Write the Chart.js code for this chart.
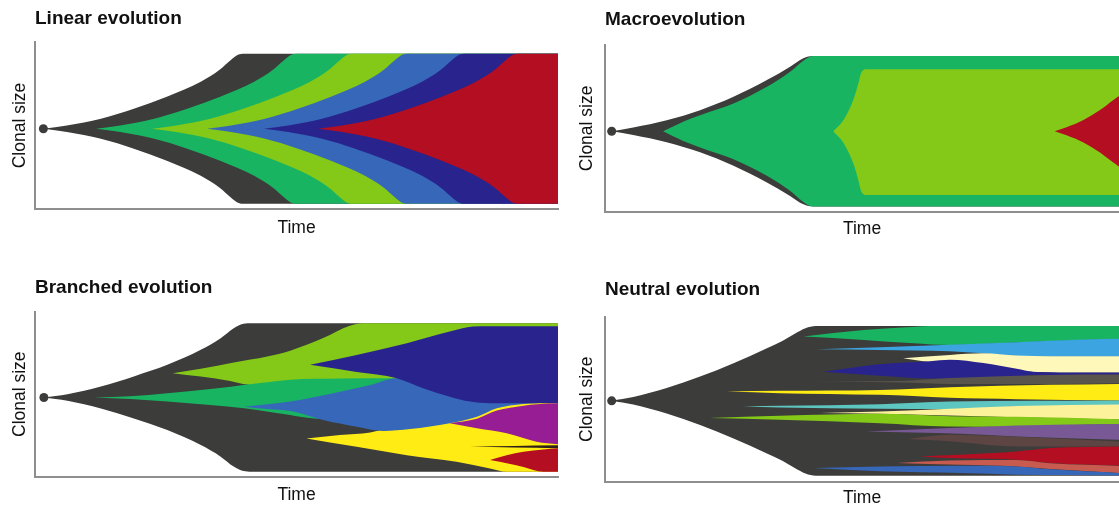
<!DOCTYPE html>
<html>
<head>
<meta charset="utf-8">
<title>Clonal evolution patterns</title>
<script src="https://cdn.jsdelivr.net/npm/chart.js@4.4.1/dist/chart.umd.min.js"></script>
<style>
  html, body { margin: 0; padding: 0; background: #fff; overflow: hidden; }
  body { width: 1119px; height: 506px; position: relative; }
  .panel { position: absolute; }
</style>
</head>
<body>
<div class="panel" style="left:0;top:0"><canvas id="linear" width="570" height="250"></canvas></div>
<div class="panel" style="left:570px;top:0"><canvas id="macro" width="549" height="250"></canvas></div>
<div class="panel" style="left:0;top:262px"><canvas id="branched" width="570" height="250"></canvas></div>
<div class="panel" style="left:570px;top:262px"><canvas id="neutral" width="549" height="250"></canvas></div>
<script>
// Time runs 0..100 along each panel, clonal size is centred on 0 (band = -50..50)
// Every clone is a list of [time, size] points for its upper and lower edge

// Linear evolution (symmetric, half widths)
const linOrigin = [1.6, 0];
const linDark  = [[1.6,0],[6.1,2.2],[12.6,6.7],[18.9,13.3],[25.2,21.3],[31.7,31.3],[35.3,39.3],[37.5,46],[38.8,49.3],[40,50],[100,50]];
const linGreen = [[11.7,0],[16.3,2.2],[22.8,6.7],[29.1,13.3],[35.4,21.3],[41.9,31.3],[45.5,39.3],[47.7,46],[49,49.3],[50.2,50],[100,50]];
const linLime  = [[22.4,0],[27,2.2],[33.5,6.7],[39.8,13.3],[46.1,21.3],[52.6,31.3],[56.2,39.3],[58.4,46],[59.7,49.3],[60.9,50],[100,50]];
const linBlue  = [[32.9,0],[37.5,2.2],[44,6.7],[50.3,13.3],[56.6,21.3],[63.1,31.3],[66.7,39.3],[68.9,46],[70.2,49.3],[71.4,50],[100,50]];
const linNavy  = [[43.8,0],[48.4,2.2],[54.9,6.7],[61.2,13.3],[67.5,21.3],[74,31.3],[77.6,39.3],[79.8,46],[81.1,49.3],[82.3,50],[100,50]];
const linRed   = [[54.1,0],[58.7,2.2],[65.2,6.7],[71.5,13.3],[77.8,21.3],[84.3,31.3],[87.9,39.3],[90.1,46],[91.4,49.3],[92.6,50],[100,50]];

// Macroevolution
const macOrigin = [1.3, 0];
const macDark  = [[1.3,0],[5.5,2.5],[12,7.3],[18.5,14],[25,22.9],[31.5,34],[36,42.9],[38.6,48.5],[40.5,50],[100,50]];
const macGreen = [[11.3,0],[15.2,6.4],[18.5,10.7],[25,18.5],[31.5,29.5],[36,39.5],[38.6,46.9],[40.5,50],[100,50]];
const macLimeTop = [[44.4,0],[46.4,7.5],[48.3,20.8],[49.3,31.9],[49.8,38.5],[50.3,40.7],[50.9,41.2],[100,41.2]];
const macLimeLow = [[44.4,0],[46.4,-7.7],[48.3,-21.3],[49.3,-32.7],[49.8,-39.5],[50.3,-41.8],[50.9,-42.3],[100,-42.3]];
const macRed   = [[87.5,0],[89.8,2.7],[93.1,7.5],[96.3,14.1],[98.9,20.8],[100,23.5]];

// Branched evolution
const brOrigin = [1.7, 0];
const brDark = [[1.7,0],[6.2,2.2],[12.6,7.4],[18.9,14.2],[25.3,22],[31.7,32.1],[35.5,39.9],[38,46.6],[39.5,49.3],[41,50],[100,50]];
const brGreenTop = [[11.3,0],[18.2,0.8],[25.3,2.8],[33.5,5.7],[40.6,8.9],[43,11.1],[48.8,13.5],[58.3,14.2],[69.2,14.2]];
const brGreenLow = [[11.3,0],[18.2,-1],[25.3,-2.8],[33.5,-5.1],[40,-7.3],[44.9,-9.8],[48.8,-11.8],[50.7,-13],[55.1,-14.5],[69.2,-15]];
const brLimeTop = [[26.3,16.4],[31.7,19.4],[38,23.6],[44.4,27.6],[48.8,31.5],[55.1,40],[60.2,48.3],[62.7,50],[100,50]];
const brLimeLow = [[26.3,16.4],[31.7,14.1],[37.3,11.1],[40.6,8.9],[43,9.8],[48.8,12],[58.3,12.8],[69.2,13],[100,13]];
const brYellowTop = [[51.9,-27.6],[58.3,-25.3],[64.1,-23.6],[66.6,-21.8],[71.7,-20.3],[79.3,-16.2],[84.5,-12.3],[88.3,-6.1],[93.4,-3],[96,-2.7],[100,-2.7]];
const brYellowLow = [[51.9,-27.6],[61.5,-33.2],[71.1,-38.9],[80.6,-43.4],[87,-47.8],[90.2,-50],[100,-50]];
const brBlueTop = [[40,-6.2],[44.4,-4.6],[48.8,-2.8],[53.5,0.3],[58.3,3.9],[64.1,8.4],[69.2,13],[74.2,7.5],[79.3,2],[83.2,-1.5],[87,-2.5],[96,-2.5]];
const brBlueLow = [[40,-6.2],[44.4,-7.8],[48.8,-9.1],[50.7,-10.7],[55.1,-15.2],[61.5,-19.7],[66.6,-22.6],[71.7,-21.3],[79.3,-17.4],[84.5,-13],[88.3,-7.3],[93.4,-4.4],[96,-3.9]];
const brNavyTop = [[52.6,22],[61.5,28.7],[71.1,36.6],[79.3,44.5],[83.8,47.8],[87,48],[100,48]];
const brNavyLow = [[52.6,22],[61.5,17.2],[69.2,13],[74.2,6.2],[79.3,0.5],[83.2,-2.8],[87,-3.9],[100,-3.9]];
const brPurpleTop = [[79.3,-17.4],[84.5,-14.3],[88.3,-8.8],[93.4,-5.5],[96,-4.5],[100,-3.9]];
const brPurpleLow = [[79.3,-17.4],[84.5,-20.8],[90.2,-24.2],[95.9,-29.9],[100,-31.6]];
const brStreakTop = [[83.2,-33.2],[91.6,-32.7],[100,-32.2]];
const brStreakLow = [[83.2,-33.2],[91.6,-33.7],[100,-34.2]];
const brRedTop = [[87,-42.2],[90.2,-38.9],[93.4,-36.6],[97.2,-35.1],[100,-34.3]];
const brRedLow = [[87,-42.2],[90.2,-44.3],[93.4,-46.8],[97.2,-50],[100,-50]];

// Neutral evolution
const neuOrigin = [1.3, 0];
const neuDark = [[1.3,0],[5.5,2.5],[12,8.5],[18.5,16.2],[25,25.1],[31.5,35.1],[34.5,40],[37,45],[39,48.5],[41,50],[100,50]];
const neuGreenTop = [[38.6,42.9],[50.3,47.3],[58.7,49.1],[63.2,50],[100,50]];
const neuGreenLow = [[38.6,42.9],[50.3,40.7],[60,38.5],[67.1,37.3],[80.1,38.9],[93.1,40.7],[100,41.1]];
const neuSkyTop = [[41.2,34.5],[53.5,35.8],[67.1,37.5],[80.1,39.2],[93.1,41],[100,41.4]];
const neuSkyLow = [[41.2,34.5],[53.5,34],[67.1,33.2],[73.6,31.8],[80.1,30],[86.6,29.5],[100,29.5]];
const neuCreamTop = [[58,28.5],[67.1,30.7],[73.6,31.8],[80.1,30.3],[86.6,29.8],[100,29.8]];
const neuCreamLow = [[58,28.5],[63.2,26],[67.1,25.5],[73.6,24],[80.1,21],[83.3,19.3],[90,18.8],[100,18.7]];
const neuNavyTop = [[42.5,19.5],[53.5,24.5],[63.2,26.5],[67.1,27.5],[73.6,25.3],[80.1,21.5],[83.3,19.5],[90,19],[100,18.9]];
const neuNavyLow = [[42.5,19.5],[53.5,16.8],[63.2,15],[67.1,15],[80.1,16.2],[83.3,17.2],[100,17.5]];
const neuTaupeTop = [[34,12.9],[57.4,13.3],[67.1,15.2],[86.6,17.3],[100,17.6]];
const neuTaupeLow = [[34,12.9],[57.4,12.3],[67.1,11.3],[86.6,11.3],[100,11.8]];
const neuYellowTop = [[23.7,6.2],[34,6.7],[53.5,7.3],[67.1,9.1],[86.6,10.7],[100,11.3]];
const neuYellowLow = [[23.7,6.2],[34,5.1],[53.5,4],[60,3.3],[67.1,2],[80.1,1.1],[100,0.2]];
const neuTealTop = [[26.9,-3.8],[34,-3.3],[53.5,-2.2],[67.1,-0.5],[100,0.2]];
const neuTealLow = [[26.9,-3.8],[34,-4.5],[53.5,-5.3],[67.1,-5.5],[80.1,-3.8],[100,-2.7]];
const neuPaleTop = [[41.8,-8.2],[53.5,-7.1],[67.1,-5.3],[80.1,-3.5],[100,-2.5]];
const neuPaleLow = [[41.8,-8.2],[53.5,-8.7],[69.1,-10],[80.1,-10.9],[100,-12.5]];
const neuLimeTop = [[20.4,-11.5],[34,-10],[53.5,-8.7],[67.1,-10.3],[80.1,-10.7],[100,-12.3]];
const neuLimeLow = [[20.4,-11.5],[34,-12.7],[53.5,-14.9],[66.5,-17.1],[80.1,-17.3],[86.6,-16.4],[100,-15.6]];
const neuPurpleTop = [[50.9,-20.5],[67.1,-18.2],[80.1,-16.5],[100,-15.5]];
const neuPurpleLow = [[50.9,-20.5],[69.1,-22],[80.1,-23.8],[100,-26]];
const neuBrownTop = [[58.7,-25.5],[67.1,-22.7],[80.1,-24],[100,-27.1]];
const neuBrownLow = [[58.7,-25.5],[67.1,-27],[80.1,-30.5],[100,-30.5]];
const neuRedTop = [[61.3,-37.1],[69.1,-36],[80.1,-33.8],[86.6,-31.5],[100,-30.5]];
const neuRedLow = [[61.3,-37.1],[67.1,-38.2],[80.1,-39.3],[86.6,-41.5],[100,-43.3]];
const neuSalmonTop = [[56.8,-41.5],[67.1,-39.8],[80.1,-39.5],[86.6,-41.7],[100,-43.5]];
const neuSalmonLow = [[56.8,-41.5],[69.1,-42.7],[80.1,-43.8],[86.6,-45.5],[100,-48.2]];
const neuBlueTop = [[40.5,-44.9],[53.5,-43.8],[69.1,-43.3],[80.1,-43.8],[86.6,-45.7],[100,-48.2]];
const neuBlueLow = [[40.5,-44.9],[53.5,-47.1],[69.1,-48.2],[80.1,-49.3],[100,-49.8]];

const C = {
  dark: '#3c3c3b', green: '#19b462', lime: '#84c818', blue: '#3667b9', navy: '#29238d',
  red: '#b30e21', yellow: '#ffec14', purple: '#961d93', streak: '#2e2018', sky: '#3ca5e1',
  cream: '#fff8bb', teal: '#5dc6c1', pale: '#fcf29b', lavender: '#785996', brown: '#5d4543',
  taupe: '#5a554c', salmon: '#c75b50'
};
const FONT = "'Liberation Sans', Arial, Helvetica, sans-serif";
const AXIS = '#8e8e8e';

const mirror = pts => pts.map(([t, w]) => [t, -w]);
const toXY = pts => pts.map(([x, y]) => ({x, y}));

function fishChart(id, title, origin, clones, f) {
  const datasets = [{
    data: toXY([origin]), showLine: false, order: 0,
    pointRadius: 4.5, pointBorderWidth: 0, pointBackgroundColor: C.dark
  }];
  // parents first, children on top
  clones.forEach(c => {
    const base = datasets.length;
    datasets.push({ data: toXY(c.low), fill: false });
    datasets.push({ data: toXY(c.up), fill: { target: base }, backgroundColor: c.color });
  });
  for (let i = 1; i < datasets.length; i++) datasets[i].order = datasets.length - i + 1;

  new Chart(document.getElementById(id), {
    type: 'line',
    data: { datasets },
    options: {
      responsive: false,
      animation: false,
      events: [],
      layout: { autoPadding: false, padding: { top: 0, left: 0, bottom: 0, right: f.padRight } },
      elements: {
        line: { borderWidth: 0, borderColor: 'transparent', cubicInterpolationMode: 'monotone' },
        point: { radius: 0, hoverRadius: 0 }
      },
      plugins: {
        legend: { display: false },
        tooltip: { enabled: false },
        title: {
          display: true, text: title, align: 'start', fullSize: false, color: '#111',
          font: { family: FONT, size: 19, weight: 'bold' },
          padding: { top: f.titleTop, bottom: f.titleBottom }
        }
      },
      scales: {
        x: {
          type: 'linear', min: 0, max: 100,
          grid: { display: false }, ticks: { display: false },
          border: { display: true, color: AXIS, width: 2 },
          title: { display: true, text: 'Time', color: '#111', font: { family: FONT, size: 17.5 }, padding: { top: 0, bottom: f.xPad } },
          afterFit: s => { s.height = f.axisH; }
        },
        y: {
          min: f.yMin, max: f.yMax,
          grid: { display: false }, ticks: { display: false },
          border: { display: true, color: AXIS, width: 2 },
          title: { display: true, text: 'Clonal size', color: '#111', font: { family: FONT, size: 17.5 }, padding: { top: f.yPad, bottom: 0 } },
          afterFit: s => { s.width = 35; }
        }
      }
    }
  });
}

fishChart('linear', 'Linear evolution', linOrigin, [
  { color: C.dark, up: linDark, low: mirror(linDark) },
  { color: C.green, up: linGreen, low: mirror(linGreen) },
  { color: C.lime, up: linLime, low: mirror(linLime) },
  { color: C.blue, up: linBlue, low: mirror(linBlue) },
  { color: C.navy, up: linNavy, low: mirror(linNavy) },
  { color: C.red, up: linRed, low: mirror(linRed) }
], { padRight: 12, titleTop: 7.4, titleBottom: 11.8, yPad: 9.7, xPad: 11.2, axisH: 41, yMin: -53.5, yMax: 57.8 });

fishChart('macro', 'Macroevolution', macOrigin, [
  { color: C.dark, up: macDark, low: mirror(macDark) },
  { color: C.green, up: macGreen, low: mirror(macGreen) },
  { color: C.lime, up: macLimeTop, low: macLimeLow },
  { color: C.red, up: macRed, low: mirror(macRed) }
], { padRight: 0, titleTop: 8.6, titleBottom: 13.6, yPad: 6.7, xPad: 10.5, axisH: 38.3, yMin: -53.4, yMax: 57.3 });

fishChart('branched', 'Branched evolution', brOrigin, [
  { color: C.dark, up: brDark, low: mirror(brDark) },
  { color: C.green, up: brGreenTop, low: brGreenLow },
  { color: C.lime, up: brLimeTop, low: brLimeLow },
  { color: C.yellow, up: brYellowTop, low: brYellowLow },
  { color: C.blue, up: brBlueTop, low: brBlueLow },
  { color: C.navy, up: brNavyTop, low: brNavyLow },
  { color: C.purple, up: brPurpleTop, low: brPurpleLow },
  { color: C.streak, up: brStreakTop, low: brStreakLow },
  { color: C.red, up: brRedTop, low: brRedLow }
], { padRight: 12, titleTop: 14.6, titleBottom: 12.3, yPad: 9.7, xPad: 6.5, axisH: 35.3, yMin: -53.4, yMax: 57.8 });

fishChart('neutral', 'Neutral evolution', neuOrigin, [
  { color: C.dark, up: neuDark, low: mirror(neuDark) },
  { color: C.green, up: neuGreenTop, low: neuGreenLow },
  { color: C.sky, up: neuSkyTop, low: neuSkyLow },
  { color: C.cream, up: neuCreamTop, low: neuCreamLow },
  { color: C.navy, up: neuNavyTop, low: neuNavyLow },
  { color: C.taupe, up: neuTaupeTop, low: neuTaupeLow },
  { color: C.yellow, up: neuYellowTop, low: neuYellowLow },
  { color: C.teal, up: neuTealTop, low: neuTealLow },
  { color: C.pale, up: neuPaleTop, low: neuPaleLow },
  { color: C.lime, up: neuLimeTop, low: neuLimeLow },
  { color: C.lavender, up: neuPurpleTop, low: neuPurpleLow },
  { color: C.brown, up: neuBrownTop, low: neuBrownLow },
  { color: C.red, up: neuRedTop, low: neuRedLow },
  { color: C.salmon, up: neuSalmonTop, low: neuSalmonLow },
  { color: C.blue, up: neuBlueTop, low: neuBlueLow }
], { padRight: 0, titleTop: 16.6, titleBottom: 15.3, yPad: 6.7, xPad: 3.2, axisH: 30.3, yMin: -54, yMax: 56.2 });
</script>
</body>
</html>
